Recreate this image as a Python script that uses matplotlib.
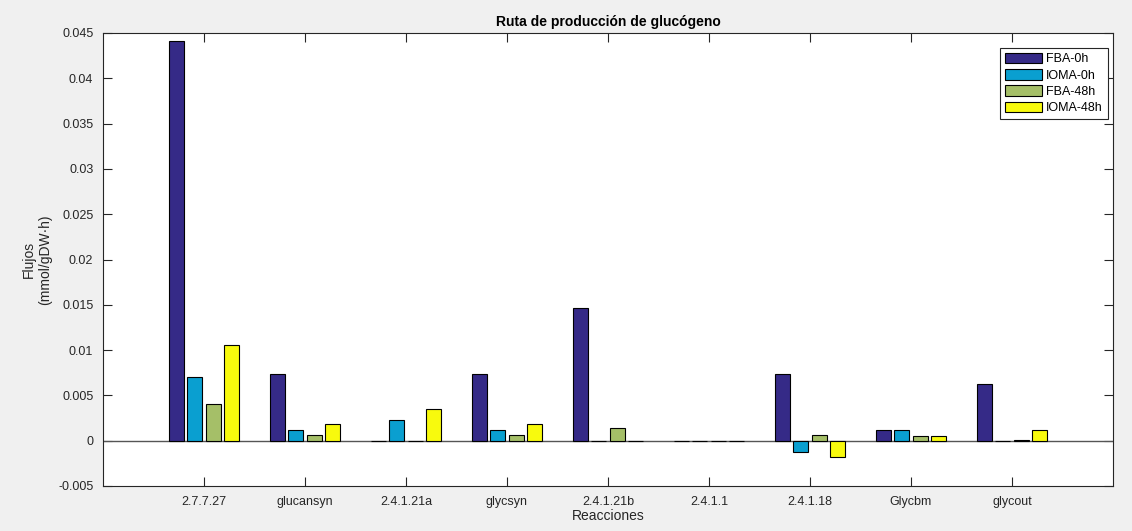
import numpy as np
import matplotlib.pyplot as plt

plt.rcParams['font.family'] = ['Liberation Sans', 'DejaVu Sans']

reacciones = ['2.7.7.27', 'glucansyn', '2.4.1.21a', 'glycsyn', '2.4.1.21b',
              '2.4.1.1', '2.4.1.18', 'Glycbm', 'glycout']
fba_0h = [0.0441, 0.0074, 0.0, 0.0074, 0.0147, 0.0, 0.0074, 0.0012, 0.0063]
ioma_0h = [0.0070, 0.0012, 0.0023, 0.0012, 0.0, 0.0, -0.0012, 0.0012, 0.0]
fba_48h = [0.0040, 0.00065, 0.0, 0.00065, 0.0014, 0.0, 0.00065, 0.00055, 0.0001]
ioma_48h = [0.0106, 0.0018, 0.0035, 0.0018, 0.0, 0.0, -0.0018, 0.00055, 0.0012]

series = [('FBA-0h', fba_0h, '#352A87'),
          ('IOMA-0h', ioma_0h, '#0A9FD0'),
          ('FBA-48h', fba_48h, '#A5BF68'),
          ('IOMA-48h', ioma_48h, '#F8FA0D')]

fig = plt.figure(figsize=(11.32, 5.31), dpi=100, facecolor='#F0F0F0')
ax = fig.add_axes([103/1132, 45/531, 1010/1132, 453/531])

x = np.arange(1, len(reacciones) + 1)
w = 0.148
offs = [-0.27, -0.09, 0.09, 0.27]
for (name, vals, col), o in zip(series, offs):
    ax.bar(x + o, vals, w, color=col, edgecolor='black', linewidth=0.8, label=name, zorder=3)

ax.axhline(0, color='#555555', lw=1.0, zorder=2)

ax.set_xlim(0, 10)
ax.set_ylim(-0.005, 0.045)
ax.set_xticks(x)
ax.set_xticklabels(reacciones)
yt = np.arange(-0.005, 0.0451, 0.005)
ax.set_yticks(yt)
ax.set_yticklabels(['%g' % round(v, 3) for v in yt])

ax.tick_params(direction='in', length=6.5, width=0.8, colors='#262626',
               labelsize=9, top=True, right=True, pad=7)
for s in ax.spines.values():
    s.set_color('#262626')
    s.set_linewidth(0.8)

ax.set_title('Ruta de producción de glucógeno', fontsize=10, fontweight='bold', color='black', pad=5)
ax.set_xlabel('Reacciones', fontsize=10, color='#262626', labelpad=1)
ax.set_ylabel('Flujos\n(mmol/gDW·h)', fontsize=10, color='#262626', labelpad=4)

leg = ax.legend(loc='upper right', bbox_to_anchor=(0.995, 0.967), fontsize=9,
                fancybox=False, framealpha=1, edgecolor='#262626',
                handlelength=3.0, handleheight=0.9, labelspacing=0.3,
                handletextpad=0.3, borderpad=0.4, borderaxespad=0)
leg.get_frame().set_linewidth(0.8)

fig.savefig('out.png', dpi=100, facecolor=fig.get_facecolor())
